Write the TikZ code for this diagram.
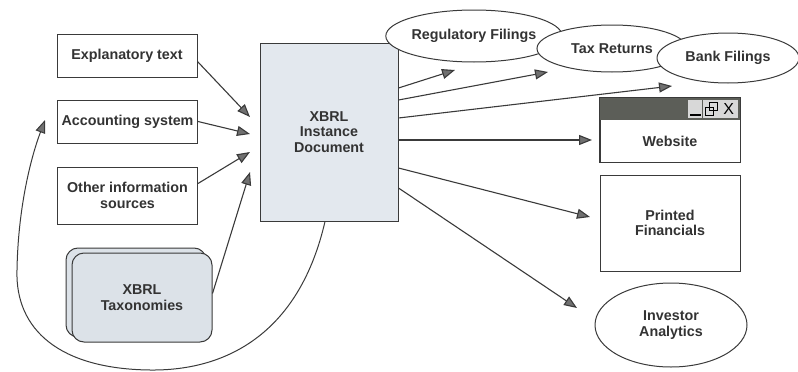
\documentclass[tikz,border=0pt]{standalone}
\usepackage{fontspec}
\setmainfont{Liberation Sans}
\usetikzlibrary{arrows.meta,shapes.geometric,calc}
\definecolor{txt}{HTML}{333333}
\definecolor{ln}{HTML}{3A3A3A}
\definecolor{headc}{HTML}{707070}
\definecolor{docfill}{HTML}{E3E8EE}
\definecolor{taxfill}{HTML}{DCE2E8}
\definecolor{barc}{HTML}{5C5E58}
\definecolor{btnc}{HTML}{D8D8D8}
\tikzset{
  lbl/.style={font=\fontsize{14.3}{15.5}\selectfont\bfseries, text=txt, align=center},
  srcbox/.style={lbl, draw=ln, line width=1pt, fill=white, minimum width=140pt, inner sep=0pt},
  oval/.style={lbl, ellipse, draw=ln, line width=1pt, fill=white, inner sep=0pt},
  arr/.style={draw=ln, line width=1.1pt, -{Triangle[length=13pt,width=10pt,fill=headc]}},
}
\begin{document}
\begin{tikzpicture}[x=1pt,y=-1pt]
\useasboundingbox (0,0) rectangle (798,372);
% source boxes
\node[srcbox, minimum height=43pt] (expl) at (127,55.5) {Explanatory text};
\node[srcbox, minimum height=43pt] (acct) at (127.5,121.5) {Accounting system};
\node[srcbox, minimum height=57pt] (other) at (127.5,195.5) {Other information\\sources};
% taxonomies (stacked)
\node[draw=ln, line width=1pt, fill=taxfill, rounded corners=12pt, minimum width=140pt, minimum height=89pt] (taxback) at (136,292.5) {};
\node[lbl, draw=ln, line width=1pt, fill=taxfill, rounded corners=12pt, minimum width=140pt, minimum height=89pt] (tax) at (142,297.5) {XBRL\\Taxonomies};
% instance document
\node[lbl, draw=ln, line width=1pt, fill=docfill, minimum width=138pt, minimum height=178pt] (doc) at (329,132) {XBRL\\Instance\\Document};
% output ellipses
\node[oval, minimum width=152pt, minimum height=52pt] (reg) at (474,36) {Regulatory Filings};
\node[oval, minimum width=150pt, minimum height=47pt] (taxr) at (612,48.5) {Tax Returns};
\node[oval, minimum width=142pt, minimum height=50pt] (bank) at (728,58) {Bank Filings};
% website window
\node[lbl, draw=ln, line width=1pt, fill=white, minimum width=140pt, minimum height=64pt, text depth=0pt] (web) at (670,130) {};
\fill[barc] (web.north west) rectangle ($(web.north east)+(0,22)$);
\draw[ln, line width=1pt] (web.north west) rectangle (web.south east);
\node[fill=btnc, minimum width=14pt, minimum height=18pt, inner sep=0pt, anchor=north east] (bmin) at ($(web.north east)+(-38,2)$) {};
\draw[black, line width=1.2pt] ($(bmin.south west)+(2,-3)$) -- ($(bmin.south east)+(-2,-3)$);
\node[fill=btnc, minimum width=16pt, minimum height=18pt, inner sep=0pt, anchor=north east] (bmax) at ($(web.north east)+(-21,2)$) {};
\draw[black, line width=0.8pt] ($(bmax.center)+(-6,-1)$) rectangle ($(bmax.center)+(2,7)$);
\draw[black, line width=0.8pt] ($(bmax.center)+(-2,-6)$) rectangle ($(bmax.center)+(6,2)$);
\node[fill=btnc, minimum width=19pt, minimum height=18pt, inner sep=0pt, anchor=north east, font=\fontsize{16}{16}\selectfont, text=black] (bx) at ($(web.north east)+(-2,2)$) {X};
\node[lbl] (webtxt) at (670,141) {Website};
% printed financials
\node[lbl, draw=ln, line width=1pt, fill=white, minimum width=140pt, minimum height=96pt] (print) at (670,223) {Printed\\Financials};
% investor analytics
\node[oval, minimum width=152pt, minimum height=84pt] (inv) at (671,325) {Investor\\Analytics};
% arrow tips
\coordinate (i1) at (250,117);
\coordinate (i2) at (250,134);
\coordinate (i3) at (250,152);
\coordinate (i4) at (250,172);
\coordinate (o1) at (455,70);
\coordinate (o2) at (548,72);
\coordinate (o3) at (672,86);
\coordinate (o4) at (592,140);
\coordinate (o5) at (590,217);
\coordinate (o6) at (577,308);
\coordinate (loopend) at (45,120);
% inputs
\draw[arr] ($(expl.east)+(0,6)$) -- (i1);
\draw[arr] (acct.east) -- (i2);
\draw[arr] ($(other.east)+(0,-12)$) -- (i3);
\draw[arr] ($(tax.east)+(0,-4)$) -- (i4);
% outputs
\draw[arr] ($(doc.east)+(0,-44)$) -- (o1);
\draw[arr] ($(doc.east)+(0,-32)$) -- (o2);
\draw[arr] ($(doc.east)+(0,-14)$) -- (o3);
\draw[arr] ($(doc.east)+(0,8)$) -- (o4);
\draw[arr] ($(doc.east)+(0,36)$) -- (o5);
\draw[arr] ($(doc.east)+(0,56)$) -- (o6);
% feedback loop
\draw[arr, line width=1pt] ($(doc.south)+(-4,0)$) .. controls (300,330) and (230,371) .. (150,370)
   .. controls (60,369) and (15,330) .. (17,270)
   .. controls (18,210) and (30,160) .. (loopend);
\end{tikzpicture}
\end{document}
